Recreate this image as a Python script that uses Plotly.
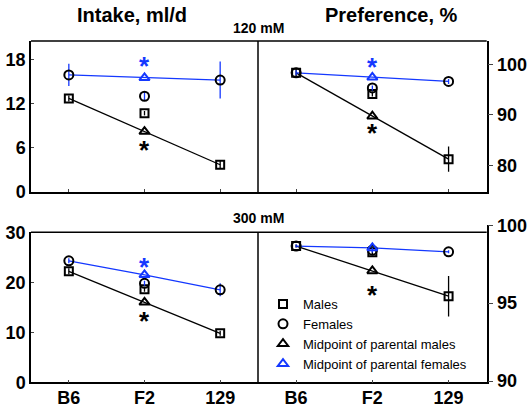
import plotly.graph_objects as go

W, H = 529, 406
FONT = "Liberation Sans"
BLUE = "#1438ff"

strains = ["B6", "F2", "129"]
xpos = [0, 1, 2]

# ---- Intake, 120 mM ----
i120_males = [12.7, 10.7, 3.7]
i120_males_err = [0.4, 0.3, 0.5]
i120_females = [15.9, 13.0, 15.2]
i120_females_err = [1.5, 0.6, 2.5]
i120_mid_males = 8.2
i120_mid_females = 15.5
i120_star_blue = 17.5
i120_star_black = 6.1

# ---- Preference, 120 mM ----
p120_males = [98.3, 94.1, 81.2]
p120_males_err = [0.8, 0.5, 2.5]
p120_females = [98.3, 95.3, 96.6]
p120_females_err = [0.5, 0.5, 0.5]
p120_mid_males = 89.7
p120_mid_females = 97.4
p120_star_blue = 100.0
p120_star_black = 87.0

# ---- Intake, 300 mM ----
i300_males = [22.2, 18.6, 9.8]
i300_males_err = [0.6, 0.5, 0.5]
i300_females = [24.3, 19.8, 18.5]
i300_females_err = [0.5, 0.5, 1.3]
i300_mid_males = 16.0
i300_mid_females = 21.5
i300_star_blue = 23.7
i300_star_black = 12.9

# ---- Preference, 300 mM ----
p300_males = [98.67, 98.27, 95.45]
p300_males_err = [0.1, 0.15, 1.3]
p300_females = [98.67, 98.4, 98.3]
p300_females_err = [0.1, 0.15, 0.1]
p300_mid_males = 97.07
p300_mid_females = 98.55
p300_star_blue = None
p300_star_black = 95.72


def px(x):
    return x / W


def py(y):
    return 1 - y / H


fig = go.Figure()
annotations = []

panels = [
    ("x", "y", i120_males, i120_males_err, i120_females, i120_females_err,
     i120_mid_males, i120_mid_females, i120_star_blue, i120_star_black),
    ("x2", "y2", p120_males, p120_males_err, p120_females, p120_females_err,
     p120_mid_males, p120_mid_females, p120_star_blue, p120_star_black),
    ("x3", "y3", i300_males, i300_males_err, i300_females, i300_females_err,
     i300_mid_males, i300_mid_females, i300_star_blue, i300_star_black),
    ("x4", "y4", p300_males, p300_males_err, p300_females, p300_females_err,
     p300_mid_males, p300_mid_females, p300_star_blue, p300_star_black),
]

for k, (xa, ya, m, me, f, fe, mm, mf, sb, sk) in enumerate(panels):
    first = (k == 0)
    fig.add_trace(go.Scatter(x=xpos, y=[m[0], mm, m[2]], mode="lines",
                             line=dict(color="black", width=1.3),
                             xaxis=xa, yaxis=ya, showlegend=False, hoverinfo="skip"))
    fig.add_trace(go.Scatter(x=xpos, y=[f[0], mf, f[2]], mode="lines",
                             line=dict(color=BLUE, width=1.3),
                             xaxis=xa, yaxis=ya, showlegend=False, hoverinfo="skip"))
    fig.add_trace(go.Scatter(x=xpos, y=m, mode="markers", name="Males",
                             marker=dict(symbol="square-open", size=8, color="black",
                                         line=dict(width=2, color="black")),
                             error_y=dict(type="data", array=me, color="black",
                                          thickness=1.3, width=0),
                             xaxis=xa, yaxis=ya, showlegend=first, legendrank=1))
    fig.add_trace(go.Scatter(x=xpos, y=f, mode="markers", name="Females",
                             marker=dict(symbol="circle-open", size=9, color="black",
                                         line=dict(width=2, color="black")),
                             error_y=dict(type="data", array=fe, color=BLUE,
                                          thickness=1.3, width=0),
                             xaxis=xa, yaxis=ya, showlegend=first, legendrank=2))
    fig.add_trace(go.Scatter(x=[1], y=[mm], mode="markers",
                             name="Midpoint of parental males",
                             marker=dict(symbol="triangle-up-open", size=9, color="black",
                                         line=dict(width=2, color="black")),
                             xaxis=xa, yaxis=ya, showlegend=first, legendrank=3))
    fig.add_trace(go.Scatter(x=[1], y=[mf], mode="markers",
                             name="Midpoint of parental females",
                             marker=dict(symbol="triangle-up-open", size=9, color=BLUE,
                                         line=dict(width=2, color=BLUE)),
                             xaxis=xa, yaxis=ya, showlegend=first, legendrank=4))
    for val, col in ((sb, BLUE), (sk, "black")):
        if val is None:
            continue
        annotations.append(dict(x=1, y=val, xref=xa, yref=ya, text="*",
                                showarrow=False, yshift=-3,
                                xanchor="center", yanchor="middle",
                                font=dict(family=FONT, size=26, color=col, weight="bold")))

xl = [px(31), px(258)]
xr = [px(258), px(486.7)]
yt = [py(192), py(41)]
yb = [py(382.3), py(232.3)]
ybr = [py(382.3), py(225)]

tickfont = dict(family=FONT, size=18, color="black", weight="bold")
common_x = dict(range=[-0.5, 2.5], tickvals=xpos, ticktext=strains, ticks="inside",
                ticklen=3, tickwidth=1.3, showline=True, linecolor="black",
                linewidth=1.5, showgrid=False, zeroline=False, tickfont=tickfont,
                fixedrange=True, automargin=False, ticklabelstandoff=-2)
common_y = dict(showline=True, linecolor="black", linewidth=1.5, showgrid=False,
                zeroline=False, tickfont=tickfont, tickwidth=1.3, fixedrange=True,
                automargin=False)

fig.update_layout(
    template="none",
    width=W, height=H,
    margin=dict(l=0, r=0, t=0, b=0, autoexpand=False),
    paper_bgcolor="white", plot_bgcolor="white",
    xaxis=dict(domain=xl, anchor="y", showticklabels=False, **common_x),
    xaxis2=dict(domain=xr, anchor="y2", showticklabels=False, **common_x),
    xaxis3=dict(domain=xl, anchor="y3", showticklabels=True, **common_x),
    xaxis4=dict(domain=xr, anchor="y4", showticklabels=True, **common_x),
    yaxis=dict(domain=yt, anchor="x", range=[0, 20.5], tickvals=[0, 6, 12, 18],
               ticks="inside", ticklen=3, **common_y),
    yaxis2=dict(domain=yt, anchor="x2", side="right", range=[74.7, 104.6],
                tickvals=[80, 90, 100], ticks="outside", ticklen=5, **common_y),
    yaxis3=dict(domain=yb, anchor="x3", range=[0, 30], tickvals=[0, 10, 20, 30],
                ticks="inside", ticklen=3, **common_y),
    yaxis4=dict(domain=ybr, anchor="x4", side="right", range=[89.92, 100.02],
                tickvals=[90, 95, 100], ticks="outside", ticklen=5, **common_y),
    legend=dict(x=px(263), y=py(289), xanchor="left", yanchor="top",
                bgcolor="rgba(0,0,0,0)", font=dict(family=FONT, size=13, color="black"),
                tracegroupgap=0, itemwidth=30),
    showlegend=True,
)

line = dict(color="black", width=1.5)
shapes = [
    dict(type="line", xref="paper", yref="paper", x0=px(31), x1=px(486.7),
         y0=py(41), y1=py(41), line=line),
    dict(type="line", xref="paper", yref="paper", x0=px(258), x1=px(258),
         y0=py(41), y1=py(192), line=line),
    dict(type="line", xref="paper", yref="paper", x0=px(31), x1=px(486.7),
         y0=py(232.3), y1=py(232.3), line=line),
    dict(type="line", xref="paper", yref="paper", x0=px(258), x1=px(258),
         y0=py(232.3), y1=py(382.3), line=line),
]

titlefont = dict(family=FONT, size=20, color="black", weight="bold")
subfont = dict(family=FONT, size=14, color="black", weight="bold")
for xx, yy, txt, fnt in ((132, 15, "Intake, ml/d", titlefont),
                         (391, 15, "Preference, %", titlefont),
                         (258, 28, "120 mM", subfont),
                         (258, 218, "300 mM", subfont)):
    annotations.append(dict(x=px(xx), y=py(yy), xref="paper", yref="paper", text=txt,
                            showarrow=False, xanchor="center", yanchor="middle",
                            font=fnt))
fig.update_layout(shapes=shapes, annotations=annotations)

fig.write_html("out.html", config={"displayModeBar": False},
               post_script="document.body.style.margin='0';document.body.style.overflow='hidden';")
